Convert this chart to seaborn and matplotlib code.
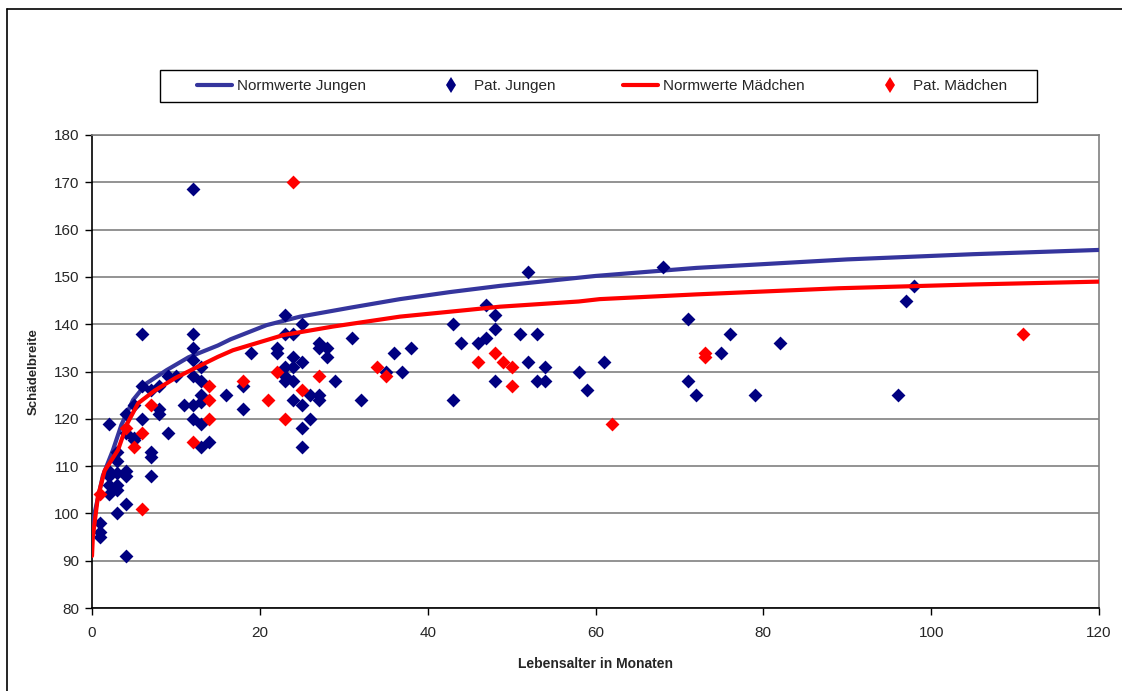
import matplotlib
matplotlib.use("Agg")
import matplotlib.pyplot as plt
import seaborn as sns
import pandas as pd
from matplotlib.lines import Line2D
from matplotlib.patches import Rectangle

# ---------------- data ----------------
norm_boys_month = [0, 0.3, 0.8, 1.3, 2.5, 3.5, 4.9, 6.5, 8.9, 11.5, 15, 16.5, 20.8,
                   24.8, 30.8, 36.7, 42.7, 48.6, 60, 72, 90, 105, 120]
norm_boys_value = [95.5, 100, 104, 108, 113.4, 118.7, 124, 127.5, 130.3, 133, 135.5,
                   136.8, 139.8, 141.6, 143.5, 145.3, 146.8, 148.1, 150.2, 151.9,
                   153.7, 154.8, 155.7]

norm_girls_month = [0, 0.1, 0.7, 1.5, 3.1, 4.2, 5.5, 7.5, 9.9, 12.6, 15, 16.8, 22.8,
                    28.7, 36.7, 44.7, 48.6, 58, 60.5, 72, 89, 105, 120]
norm_girls_value = [91, 95, 103.5, 109, 113.4, 119, 123.3, 126, 128.6, 131, 133.1,
                    134.5, 137.7, 139.5, 141.6, 143, 143.7, 144.8, 145.3, 146.3,
                    147.6, 148.4, 149]

boys_age = [1, 1, 1,
            2, 2, 2, 2, 2,
            3, 3, 3, 3, 3, 3,
            4, 4, 4, 4, 4, 4,
            5, 5, 5,
            6, 6, 6,
            7, 7, 7, 7,
            8, 8, 8,
            9, 9, 10, 11,
            12, 12, 12, 12, 12, 12, 12,
            13, 13, 13, 13, 13, 13,
            14, 16, 18, 18, 19, 22, 22,
            23, 23, 23, 23, 23,
            24, 24, 24, 24, 24,
            25, 25, 25, 25, 25,
            26, 26, 27, 27, 27, 27, 28, 28, 29,
            31, 32, 35, 36, 37, 38, 43, 43, 44, 46, 47, 47,
            48, 48, 48, 51, 52, 52, 53, 53, 54, 54, 58, 59, 61,
            68, 71, 71, 72, 75, 76, 79, 82, 96, 97, 98]
boys_width = [98, 96, 95,
              119, 109, 108, 106, 104,
              113, 111, 108.5, 106, 105, 100,
              121, 117, 109, 108, 102, 91,
              123, 116, 115.5,
              120, 138, 127,
              126, 113, 112, 108,
              127, 122, 121,
              117, 129, 129, 123,
              168.5, 138, 135, 132.5, 129, 123, 120,
              131, 128, 125, 123.5, 119, 114,
              115, 125, 127, 122, 134, 135, 134,
              142, 138, 131, 129, 128,
              138, 133, 131, 128, 124,
              140, 132, 123, 118, 114,
              125, 120, 136, 135, 125, 124, 135, 133, 128,
              137, 124, 130, 134, 130, 135, 140, 124, 136, 136, 144, 137,
              142, 139, 128, 138, 151, 132, 138, 128, 131, 128, 130, 126, 132,
              152, 141, 128, 125, 134, 138, 125, 136, 125, 145, 148]

girls_age = [1, 4, 5, 6, 6, 7, 12, 14, 14, 14, 18, 21, 22, 23, 24, 25, 27,
             34, 35, 46, 48, 49, 50, 50, 62, 73, 73, 111]
girls_width = [104, 118, 114, 117, 101, 123, 115, 127, 124, 120, 128, 124, 130,
               120, 170, 126, 129, 131, 129, 132, 134, 132, 131, 127, 119, 134,
               133, 138]

x_ticks = [0, 20, 40, 60, 80, 100, 120]
y_ticks = [80, 90, 100, 110, 120, 130, 140, 150, 160, 170, 180]

labels = ["Normwerte Jungen", "Pat. Jungen", "Normwerte Mädchen", "Pat. Mädchen"]
x_label = "Lebensalter in Monaten"
y_label = "Schädelbreite"

# ---------------- styling ----------------
sns.set_theme(style="white")
plt.rcParams['font.family'] = ['Liberation Sans', 'DejaVu Sans']

BLUE_LINE = "#35359d"
BLUE_PT = "#000080"
RED = "#ff0000"

fig = plt.figure(figsize=(11.22, 6.91), dpi=100)
ax = fig.add_axes([92 / 1122, (691 - 608) / 691, (1099 - 92) / 1122, (608 - 135) / 691])

df_nb = pd.DataFrame({"m": norm_boys_month, "v": norm_boys_value})
df_ng = pd.DataFrame({"m": norm_girls_month, "v": norm_girls_value})
df_b = pd.DataFrame({"m": boys_age, "v": boys_width})
df_g = pd.DataFrame({"m": girls_age, "v": girls_width})

sns.lineplot(data=df_nb, x="m", y="v", ax=ax, color=BLUE_LINE, lw=3.0,
             estimator=None, sort=False, legend=False, zorder=3)
sns.scatterplot(data=df_b, x="m", y="v", ax=ax, color=BLUE_PT, marker="D",
                s=50, linewidth=0, legend=False, zorder=4)
sns.lineplot(data=df_ng, x="m", y="v", ax=ax, color=RED, lw=3.0,
             estimator=None, sort=False, legend=False, zorder=5)
sns.scatterplot(data=df_g, x="m", y="v", ax=ax, color=RED, marker="D",
                s=50, linewidth=0, legend=False, zorder=6)

ax.set_xlim(0, 120)
ax.set_ylim(80, 180)
ax.set_xticks(x_ticks)
ax.set_yticks(y_ticks)
ax.yaxis.grid(True, color="#808080", lw=1.2)
ax.xaxis.grid(False)
ax.set_axisbelow(True)

for side in ["left", "bottom"]:
    ax.spines[side].set_color("black")
    ax.spines[side].set_linewidth(1.2)
for side in ["top", "right"]:
    ax.spines[side].set_color("#808080")
    ax.spines[side].set_linewidth(1.2)

ax.tick_params(axis="both", which="major", direction="out", length=5, width=1,
               color="black", labelsize=11, pad=4, left=True, bottom=True)
ax.tick_params(axis="x", pad=8)

ax.set_xlabel(x_label, fontsize=10, fontweight="bold", labelpad=12)
ax.set_ylabel(y_label, fontsize=9.5, fontweight="bold", labelpad=10)

handles = [
    Line2D([], [], color=BLUE_LINE, lw=3.0),
    Line2D([], [], color=BLUE_PT, marker="d", ls="none", markersize=8, markeredgewidth=0),
    Line2D([], [], color=RED, lw=3.0),
    Line2D([], [], color=RED, marker="d", ls="none", markersize=8, markeredgewidth=0),
]
leg = fig.legend(handles, labels, ncol=4, mode="expand",
                 bbox_to_anchor=(197 / 1122, 1 - 102 / 691, (1007 - 197) / 1122, 32 / 691),
                 loc="center", frameon=False, handlelength=2.3,
                 handletextpad=0.35, borderaxespad=0, borderpad=0,
                 prop={"size": 11})

# legend frame
fig.add_artist(Rectangle((160 / 1122, 1 - 102 / 691), (1037 - 160) / 1122, 32 / 691,
                         transform=fig.transFigure, fill=False, ec="black", lw=1.0))

# outer chart border
fig.add_artist(Line2D([7 / 1122, 7 / 1122], [0, 1 - 9 / 691], color="black", lw=1.2,
                      transform=fig.transFigure))
fig.add_artist(Line2D([7 / 1122, 1], [1 - 9 / 691, 1 - 9 / 691], color="black", lw=1.2,
                      transform=fig.transFigure))

fig.savefig("out.png", dpi=100)
